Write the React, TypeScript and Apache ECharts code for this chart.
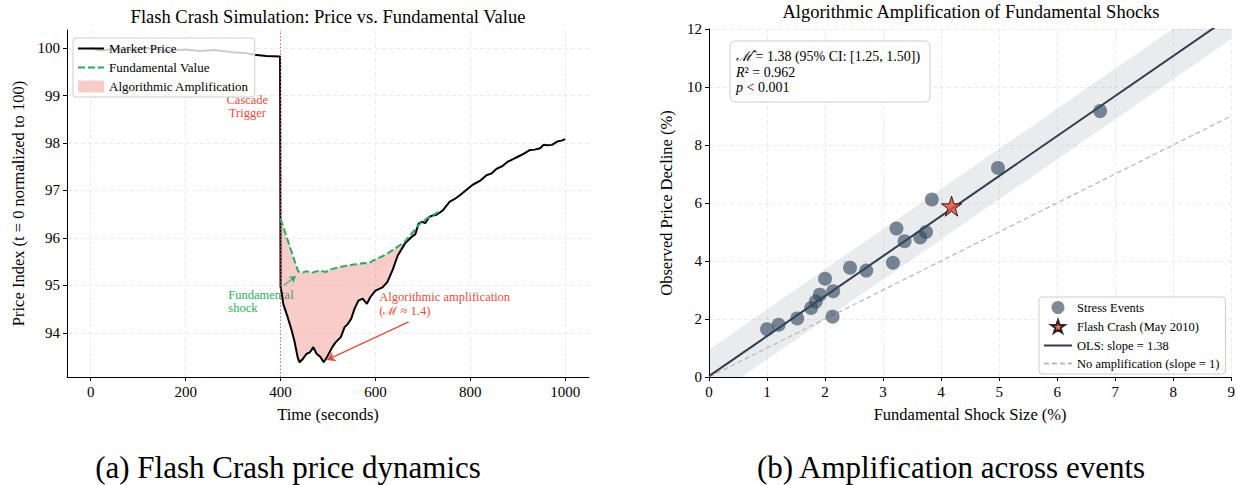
import React, { useEffect, useRef } from 'react';
import * as echarts from 'echarts';

// ---------- Panel (a): flash crash simulation ----------
const timeSec = [0, 20, 50, 90, 120, 160, 200, 230, 260, 300, 330, 345, 370, 399, 400, 406, 415, 422, 429, 436, 440, 447, 455, 462, 469, 476, 484, 491, 498, 509, 516, 527, 535, 542, 549, 556, 564, 573, 582, 589, 600, 615, 625, 636, 647, 662, 676, 684, 691, 698, 705, 713, 720, 727, 735, 742, 756, 767, 778, 790, 805, 820, 834, 845, 856, 867, 878, 890, 900, 912, 925, 936, 947, 954, 963, 972, 983, 992, 1000];
const marketPrice = [100.0, 99.95, 99.98, 99.96, 100.0, 99.94, 99.97, 99.94, 99.96, 99.91, 99.89, 99.86, 99.83, 99.82, 94.98, 94.6, 94.33, 94.1, 93.84, 93.49, 93.38, 93.45, 93.56, 93.59, 93.7, 93.56, 93.49, 93.38, 93.49, 93.7, 93.8, 93.91, 94.12, 94.19, 94.3, 94.51, 94.68, 94.72, 94.61, 94.75, 94.89, 94.96, 95.07, 95.32, 95.63, 95.88, 96.02, 96.08, 96.3, 96.34, 96.31, 96.44, 96.47, 96.48, 96.53, 96.58, 96.76, 96.82, 96.9, 97.0, 97.12, 97.2, 97.32, 97.36, 97.46, 97.51, 97.6, 97.66, 97.71, 97.77, 97.85, 97.86, 97.89, 97.96, 97.95, 97.96, 98.03, 98.05, 98.08];
const fundTime = [400, 437, 444, 455, 465, 473, 485, 495, 502, 515, 531, 545, 553, 565, 575, 585, 596, 607, 618, 630, 640, 652, 662, 676, 691, 700, 713, 725, 738];
const fundValue = [96.4, 95.3, 95.26, 95.3, 95.26, 95.29, 95.31, 95.28, 95.33, 95.36, 95.4, 95.42, 95.44, 95.45, 95.47, 95.46, 95.53, 95.58, 95.63, 95.7, 95.77, 95.85, 95.92, 96.09, 96.27, 96.35, 96.44, 96.5, 96.58];
const crashTime = 400;
const fillEndTime = 713;
const leftXTicks = [0, 200, 400, 600, 800, 1000];
const leftYTicks = [94, 95, 96, 97, 98, 99, 100];

// ---------- Panel (b): amplification across events ----------
const stressX = [1.0, 1.2, 1.52, 1.76, 1.84, 1.91, 2.0, 2.14, 2.13, 2.43, 2.71, 3.17, 3.23, 3.37, 3.64, 3.74, 3.84, 4.98, 6.74];
const stressY = [1.65, 1.8, 2.02, 2.38, 2.6, 2.84, 3.39, 2.96, 2.08, 3.77, 3.67, 3.94, 5.12, 4.68, 4.81, 5.0, 6.12, 7.21, 9.17];
const flashCrashPoint = [4.18, 5.89];
const olsX = [0, 9];
const olsY = [0.03, 12.45];
const bandUpper = [0.95, 13.4];
const bandLower = [-0.78, 11.65];
const identityY = [0, 9];

const SERIF = '"Liberation Serif", "Times New Roman", serif';
const STAR = 'path://M50,2 L61.2,36.2 L97,36.2 L68,57.3 L79.1,91.5 L50,70.3 L20.9,91.5 L32,57.3 L3,36.2 L38.8,36.2 Z';

export default function App() {
  const ref = useRef<HTMLDivElement>(null);

  useEffect(() => {
    document.body.style.margin = '0';
    const chart = echarts.init(ref.current as HTMLDivElement, null, { renderer: 'svg' });

    const axisCommon = {
      type: 'value',
      axisLine: { show: true, onZero: false, lineStyle: { color: '#000', width: 1 } },
      axisTick: { show: true, length: 4, inside: false, lineStyle: { color: '#000', width: 1 } },
      axisLabel: { color: '#000', fontSize: 15, fontFamily: SERIF, formatter: (v: number) => String(v) },
      splitLine: { show: true, lineStyle: { color: '#e6e6e6', width: 0.8, type: [4, 3] } },
      nameLocation: 'middle',
      nameTextStyle: { color: '#000', fontSize: 16.5, fontFamily: SERIF },
    };

    const noSym = { opacity: 0 };

    const option: any = {
      animation: false,
      backgroundColor: '#fff',
      textStyle: { fontFamily: SERIF },
      grid: [
        { left: 67, top: 30, width: 522, height: 347 },
        { left: 709, top: 29, width: 524, height: 348 },
      ],
      xAxis: [
        {
          ...axisCommon,
          gridIndex: 0,
          min: -50,
          max: 1050,
          axisTick: { ...axisCommon.axisTick, customValues: leftXTicks },
          axisLabel: { ...axisCommon.axisLabel, customValues: leftXTicks, margin: 7 },
          name: 'Time (seconds)',
          nameGap: 29,
        },
        {
          ...axisCommon,
          gridIndex: 1,
          min: 0,
          max: 9,
          interval: 1,
          axisLabel: { ...axisCommon.axisLabel, margin: 7 },
          name: 'Fundamental Shock Size (%)',
          nameGap: 29,
        },
      ],
      yAxis: [
        {
          ...axisCommon,
          gridIndex: 0,
          min: 93.07,
          max: 100.38,
          axisTick: { ...axisCommon.axisTick, customValues: leftYTicks },
          axisLabel: { ...axisCommon.axisLabel, customValues: leftYTicks, margin: 7 },
          name: 'Price Index (t = 0 normalized to 100)',
          nameGap: 40,
        },
        {
          ...axisCommon,
          gridIndex: 1,
          min: 0,
          max: 12,
          interval: 2,
          axisLabel: { ...axisCommon.axisLabel, margin: 7 },
          name: 'Observed Price Decline (%)',
          nameGap: 34,
        },
      ],
      legend: [
        {
          left: 73,
          top: 38,
          orient: 'vertical',
          data: [
            { name: 'Market Price', itemStyle: noSym },
            { name: 'Fundamental Value', itemStyle: noSym },
            { name: 'Algorithmic Amplification', icon: 'rect' },
          ],
          itemWidth: 26,
          itemHeight: 12,
          itemGap: 6,
          textStyle: { fontSize: 13, fontFamily: SERIF, color: '#000' },
          backgroundColor: 'rgba(255,255,255,0.8)',
          borderColor: '#cccccc',
          borderWidth: 1,
          borderRadius: 3,
          padding: [4, 6, 4, 4],
        },
        {
          left: 1039,
          top: 297,
          orient: 'vertical',
          data: [
            'Stress Events',
            'Flash Crash (May 2010)',
            { name: 'OLS: slope = 1.38', itemStyle: noSym },
            { name: 'No amplification (slope = 1)', itemStyle: noSym },
          ],
          itemWidth: 28,
          itemHeight: 13,
          itemGap: 5,
          textStyle: { fontSize: 12.5, fontFamily: SERIF, color: '#000' },
          backgroundColor: 'rgba(255,255,255,0.8)',
          borderColor: '#cccccc',
          borderWidth: 1,
          borderRadius: 3,
          padding: [4, 6, 4, 4],
        },
      ],
      series: [
        {
          name: 'Algorithmic Amplification',
          type: 'custom',
          xAxisIndex: 0,
          yAxisIndex: 0,
          silent: true,
          itemStyle: { color: 'rgba(231,76,60,0.28)' },
          data: [[crashTime, fundValue[0]]],
          renderItem: (_params: any, api: any) => {
            const pts: number[][] = [];
            fundTime.forEach((t, i) => {
              if (t <= fillEndTime) pts.push(api.coord([t, fundValue[i]]));
            });
            for (let i = timeSec.length - 1; i >= 0; i--) {
              const t = timeSec[i];
              if (t >= crashTime && t <= fillEndTime) pts.push(api.coord([t, marketPrice[i]]));
            }
            return { type: 'polygon', shape: { points: pts }, style: { fill: 'rgba(231,76,60,0.28)' } };
          },
          z: 1,
        },
        {
          name: 'Market Price',
          type: 'line',
          xAxisIndex: 0,
          yAxisIndex: 0,
          showSymbol: false,
          symbol: 'none',
          color: '#000',
          lineStyle: { color: '#000', width: 2 },
          data: timeSec.map((t, i) => [t, marketPrice[i]]),
          z: 3,
          markLine: {
            silent: true,
            symbol: ['none', 'none'],
            label: { show: false },
            data: [
              { xAxis: crashTime, lineStyle: { color: '#e74c3c', type: [1.5, 2], width: 1, opacity: 0.8 } },
              [
                { coord: [670, 94.23], symbol: 'none' },
                { coord: [498, 93.43], symbol: 'arrow', symbolSize: 8, lineStyle: { color: '#e74c3c', width: 1.3, type: 'solid' } },
              ],
              [
                { coord: [407, 95.0], symbol: 'none' },
                { coord: [432, 95.19], symbol: 'arrow', symbolSize: 6, lineStyle: { color: '#27ae60', width: 1.2, type: 'solid' } },
              ],
            ],
          },
        },
        {
          name: 'Fundamental Value',
          type: 'line',
          xAxisIndex: 0,
          yAxisIndex: 0,
          showSymbol: false,
          symbol: 'none',
          color: '#27ae60',
          lineStyle: { color: '#27ae60', width: 2, type: [7, 3] },
          data: fundTime.map((t, i) => [t, fundValue[i]]),
          z: 4,
        },
        {
          name: 'CI band',
          type: 'custom',
          xAxisIndex: 1,
          yAxisIndex: 1,
          silent: true,
          clip: true,
          data: [[olsX[0], olsY[0]]],
          renderItem: (params: any, api: any) => {
            const pts: number[][] = [];
            olsX.forEach((x, i) => pts.push(api.coord([x, bandUpper[i]])));
            for (let i = olsX.length - 1; i >= 0; i--) pts.push(api.coord([olsX[i], bandLower[i]]));
            const cs = params.coordSys;
            return {
              type: 'polygon',
              shape: { points: pts },
              style: { fill: 'rgba(44,62,80,0.1)' },
              clipPath: { type: 'rect', shape: { x: cs.x, y: cs.y, width: cs.width, height: cs.height } },
            };
          },
          z: 1,
        },
        {
          name: 'No amplification (slope = 1)',
          type: 'line',
          xAxisIndex: 1,
          yAxisIndex: 1,
          symbol: 'none',
          color: '#bbbbbb',
          lineStyle: { color: '#bbbbbb', width: 1.3, type: [5, 3] },
          data: olsX.map((x, i) => [x, identityY[i]]),
          z: 2,
        },
        {
          name: 'OLS: slope = 1.38',
          type: 'line',
          xAxisIndex: 1,
          yAxisIndex: 1,
          symbol: 'none',
          color: '#2c3e50',
          lineStyle: { color: '#2c3e50', width: 2 },
          data: olsX.map((x, i) => [x, olsY[i]]),
          clip: true,
          z: 3,
        },
        {
          name: 'Stress Events',
          type: 'scatter',
          xAxisIndex: 1,
          yAxisIndex: 1,
          symbol: 'circle',
          symbolSize: 14,
          itemStyle: { color: 'rgba(52,73,94,0.8)' },
          data: stressX.map((x, i) => [x, stressY[i]]),
          z: 4,
        },
        {
          name: 'Flash Crash (May 2010)',
          type: 'scatter',
          xAxisIndex: 1,
          yAxisIndex: 1,
          symbol: STAR,
          symbolSize: 20,
          itemStyle: { color: '#e74c3c', borderColor: '#000', borderWidth: 1 },
          data: [flashCrashPoint],
          z: 5,
        },
      ],
    };

    chart.setOption(option);

    const px = (gi: number, v: number[]) => chart.convertToPixel({ gridIndex: gi } as any, v) as number[];
    const cascade = px(0, [330, 98.77]);
    const fundShock = px(0, [290, 94.65]);
    const algo = px(0, [608, 94.6]);

    const txt = (x: number, y: number, text: string, size: number, color: string, align: string, extra: any = {}) => ({
      type: 'text',
      x,
      y,
      silent: true,
      style: { text, fontSize: size, fontFamily: SERIF, fill: color, align, verticalAlign: 'middle', ...extra },
    });

    chart.setOption({
      graphic: [
        txt(328, 17, 'Flash Crash Simulation: Price vs. Fundamental Value', 18.5, '#000', 'center'),
        txt(971, 12, 'Algorithmic Amplification of Fundamental Shocks', 18.5, '#000', 'center'),
        txt(cascade[0], cascade[1], 'Cascade\nTrigger', 12.5, '#e74c3c', 'center', { lineHeight: 13 }),
        txt(fundShock[0], fundShock[1], 'Fundamental\nshock', 12.5, '#27ae60', 'left', { lineHeight: 13 }),
        txt(algo[0], algo[1], 'Algorithmic amplification\n(\u2133 \u2248 1.4)', 12.5, '#e74c3c', 'left', { lineHeight: 14 }),
        {
          type: 'rect',
          silent: true,
          shape: { x: 730, y: 41, width: 200, height: 61, r: 5 },
          style: { fill: 'rgba(255,255,255,0.85)', stroke: '#cccccc', lineWidth: 1 },
          z: 100,
        },
        {
          type: 'text',
          silent: true,
          x: 736,
          y: 49,
          z: 101,
          style: {
            text: '{i|\u2133\u0302} = 1.38 (95% CI: [1.25, 1.50])\n{i|R}\u00b2 = 0.962\n{i|p} < 0.001',
            fontSize: 14,
            fontFamily: SERIF,
            fill: '#000',
            lineHeight: 15.5,
            verticalAlign: 'top',
            rich: { i: { fontStyle: 'italic', fontSize: 14, fontFamily: SERIF, fill: '#000' } },
          },
        },
        txt(288, 467, '(a) Flash Crash price dynamics', 31, '#000', 'center'),
        txt(951, 467, '(b) Amplification across events', 31, '#000', 'center'),
      ],
    });

    return () => chart.dispose();
  }, []);

  return <div ref={ref} style={{ position: 'absolute', left: 0, top: 0, width: 1238, height: 485 }} />;
}
